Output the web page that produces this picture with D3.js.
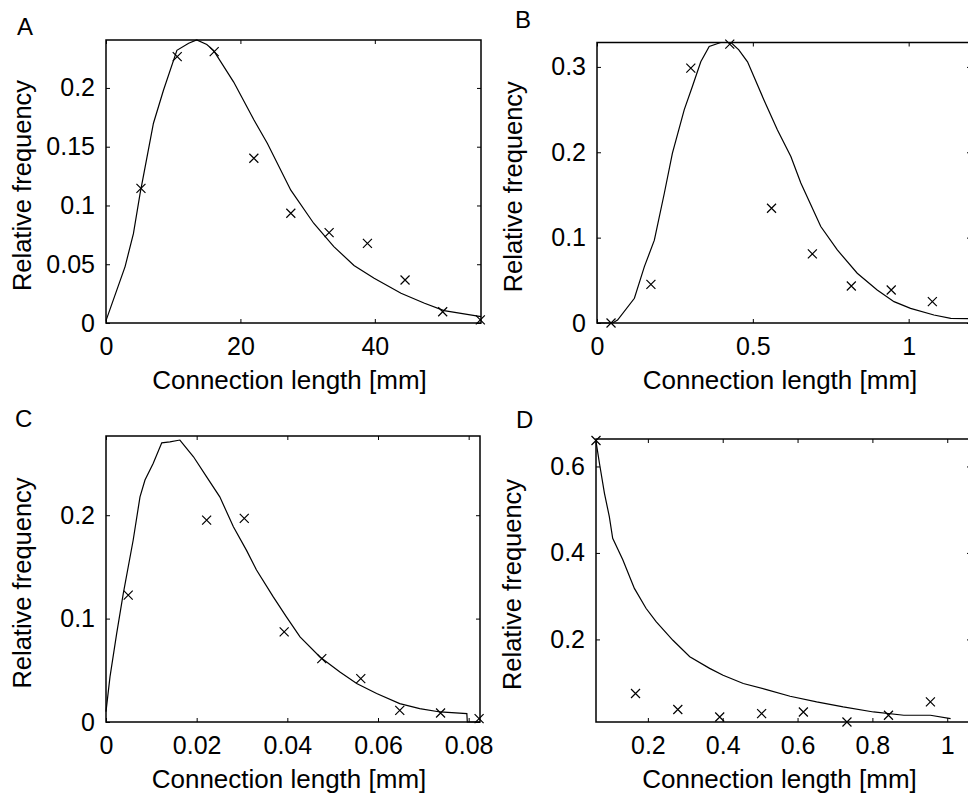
<!DOCTYPE html>
<html>
<head>
<meta charset="utf-8">
<script src="https://cdn.jsdelivr.net/npm/d3@7"></script>
<style>
  body { margin: 0; background: #fff; }
  text { font-family: "Liberation Sans", Arial, sans-serif; fill: #000; }
</style>
</head>
<body>
<div id="fig"></div>
<script>
// panel A
var aBinX = [5.2, 10.6, 16.1, 22.0, 27.5, 33.2, 38.9, 44.5, 50.1, 55.7];
var aFreq = [0.1146, 0.2266, 0.2309, 0.1402, 0.0934, 0.0769, 0.0678, 0.0366, 0.0096, 0.0026];
var aFitX = [0, 2.84, 4.08, 5.07, 7.06, 8.55, 10.55, 12.3, 13.5, 15.0, 16.0, 19.0, 22.0, 24.0, 27.5, 30.9, 33.9, 36.9, 39.9, 43.9, 47.4, 50.3, 55.8];
var aFitY = [0.002, 0.048, 0.076, 0.110, 0.170, 0.198, 0.232, 0.238, 0.2408, 0.237, 0.232, 0.205, 0.173, 0.153, 0.113, 0.0849, 0.065, 0.049, 0.038, 0.0253, 0.0168, 0.0105, 0.0054];
var aXTicks = [0, 20, 40];
var aYTicks = [0, 0.05, 0.1, 0.15, 0.2];

// panel B
var bBinX = [0.045, 0.173, 0.301, 0.426, 0.560, 0.691, 0.816, 0.944, 1.076];
var bFreq = [0, 0.0453, 0.2986, 0.3267, 0.1344, 0.0809, 0.0434, 0.0387, 0.025];
var bFitX = [0, 0.05, 0.066, 0.12, 0.152, 0.184, 0.216, 0.242, 0.28, 0.306, 0.333, 0.36, 0.397, 0.43, 0.455, 0.483, 0.536, 0.579, 0.622, 0.654, 0.718, 0.771, 0.835, 0.899, 0.953, 1.006, 1.081, 1.135, 1.2];
var bFitY = [0, 0, 0.0035, 0.029, 0.066, 0.097, 0.152, 0.199, 0.25, 0.277, 0.306, 0.324, 0.3286, 0.3286, 0.32, 0.306, 0.261, 0.226, 0.195, 0.164, 0.113, 0.0856, 0.0583, 0.0387, 0.025, 0.0172, 0.0094, 0.0055, 0.005];
var bXTicks = [0, 0.5, 1];
var bYTicks = [0, 0.1, 0.2, 0.3];

// panel C
var cBinX = [0.0049, 0.0222, 0.0305, 0.0393, 0.0476, 0.0562, 0.0648, 0.0738, 0.0823];
var cFreq = [0.1227, 0.1953, 0.1969, 0.0871, 0.0613, 0.042, 0.0113, 0.0087, 0.0033];
var cFitX = [0, 0.00088, 0.00235, 0.0038, 0.006, 0.0075, 0.0086, 0.0104, 0.0123, 0.0141, 0.0163, 0.0193, 0.0222, 0.0251, 0.0281, 0.031, 0.0332, 0.0369, 0.0398, 0.0428, 0.0472, 0.0516, 0.0553, 0.0597, 0.0648, 0.0692, 0.0737, 0.0796, 0.0797, 0.0825];
var cFitY = [0.01, 0.0436, 0.0855, 0.124, 0.176, 0.2178, 0.234, 0.250, 0.270, 0.271, 0.2727, 0.2565, 0.237, 0.2178, 0.1888, 0.166, 0.147, 0.121, 0.1016, 0.0823, 0.0629, 0.0484, 0.0372, 0.0275, 0.0178, 0.013, 0.0097, 0.0081, 0, 0];
var cXTicks = [0, 0.02, 0.04, 0.06, 0.08];
var cYTicks = [0, 0.1, 0.2];

// panel D
var dBinX = [0.0614, 0.167, 0.280, 0.392, 0.504, 0.6155, 0.732, 0.843, 0.955];
var dFreq = [0.66, 0.0749, 0.0378, 0.0206, 0.0285, 0.0322, 0.009, 0.0246, 0.0554];
var dFitX = [0.0614, 0.0705, 0.084, 0.097, 0.106, 0.133, 0.164, 0.195, 0.222, 0.267, 0.312, 0.365, 0.401, 0.455, 0.517, 0.58, 0.651, 0.722, 0.803, 0.884, 0.955, 1.009];
var dFitY = [0.658, 0.608, 0.538, 0.484, 0.434, 0.384, 0.318, 0.272, 0.241, 0.198, 0.160, 0.133, 0.117, 0.098, 0.084, 0.0686, 0.0554, 0.0438, 0.0322, 0.0246, 0.0246, 0.017];
var dXTicks = [0.2, 0.4, 0.6, 0.8, 1];
var dYTicks = [0.2, 0.4, 0.6];

var xLabel = "Connection length [mm]";
var yLabel = "Relative frequency";

var svg = d3.select("#fig").append("svg")
  .attr("width", 968)
  .attr("height", 801);

var fmt = d3.format("~g");

function drawPanel(p) {
  var x = d3.scaleLinear().domain(p.xDom).range([p.left, p.right]);
  var y = d3.scaleLinear().domain(p.yDom).range([p.bottom, p.top]);
  var g = svg.append("g");

  // ticks pointing inward on all four sides
  g.append("g")
    .attr("transform", "translate(0," + p.bottom + ")")
    .call(d3.axisBottom(x).tickValues(p.xTicks).tickSize(-4).tickSizeOuter(0).tickPadding(14).tickFormat(fmt))
    .call(function(a) { a.select(".domain").remove(); a.selectAll("text").attr("font-size", 25); });
  g.append("g")
    .attr("transform", "translate(0," + p.top + ")")
    .call(d3.axisTop(x).tickValues(p.xTicks).tickSize(-4).tickSizeOuter(0).tickFormat(""))
    .call(function(a) { a.select(".domain").remove(); });
  g.append("g")
    .attr("transform", "translate(" + p.left + ",0)")
    .call(d3.axisLeft(y).tickValues(p.yTicks).tickSize(-4).tickSizeOuter(0).tickPadding(11).tickFormat(fmt))
    .call(function(a) { a.select(".domain").remove(); a.selectAll("text").attr("font-size", 25); });
  g.append("g")
    .attr("transform", "translate(" + p.right + ",0)")
    .call(d3.axisRight(y).tickValues(p.yTicks).tickSize(-4).tickSizeOuter(0).tickFormat(""))
    .call(function(a) { a.select(".domain").remove(); });
  g.selectAll(".tick line").attr("stroke", "#000");

  g.append("rect")
    .attr("x", p.left).attr("y", p.top)
    .attr("width", p.right - p.left).attr("height", p.bottom - p.top)
    .attr("fill", "none").attr("stroke", "#000").attr("stroke-width", 1.5);

  // fitted curve
  var line = d3.line()
    .x(function(d) { return x(d[0]); })
    .y(function(d) { return y(d[1]); });
  g.append("path")
    .datum(d3.zip(p.fitX, p.fitY))
    .attr("d", line)
    .attr("fill", "none")
    .attr("stroke", "#000")
    .attr("stroke-width", 1.2);

  // measured bins as x markers
  var s = 4.5;
  g.selectAll(".mk")
    .data(d3.zip(p.binX, p.freq))
    .enter().append("path")
    .attr("class", "mk")
    .attr("d", function(d) {
      var cx = x(d[0]), cy = y(d[1]);
      return "M" + (cx - s) + "," + (cy - s) + "L" + (cx + s) + "," + (cy + s) +
             "M" + (cx - s) + "," + (cy + s) + "L" + (cx + s) + "," + (cy - s);
    })
    .attr("stroke", "#000")
    .attr("stroke-width", 1.2)
    .attr("fill", "none");

  var mid = (p.left + p.right) / 2 - 4;
  g.append("text")
    .attr("x", mid).attr("y", p.bottom + 66)
    .attr("text-anchor", "middle")
    .attr("font-size", 26)
    .text(xLabel);
  g.append("text")
    .attr("transform", "translate(" + (p.left - 75) + "," + ((p.top + p.bottom) / 2 + 4) + ") rotate(-90)")
    .attr("text-anchor", "middle")
    .attr("font-size", 25.5)
    .text(yLabel);
  g.append("text")
    .attr("x", p.labX).attr("y", p.labY)
    .attr("font-size", 24)
    .text(p.name);
}

drawPanel({ name: "A", labX: 17, labY: 35, left: 106, right: 481, top: 40, bottom: 323,
  xDom: [0, 55.8], yDom: [0, 0.2408], xTicks: aXTicks, yTicks: aYTicks,
  binX: aBinX, freq: aFreq, fitX: aFitX, fitY: aFitY });
drawPanel({ name: "B", labX: 515, labY: 28, left: 597, right: 971, top: 42.5, bottom: 323,
  xDom: [0, 1.2], yDom: [0, 0.3286], xTicks: bXTicks, yTicks: bYTicks,
  binX: bBinX, freq: bFreq, fitX: bFitX, fitY: bFitY });
drawPanel({ name: "C", labX: 15, labY: 427, left: 106, right: 480, top: 436, bottom: 722,
  xDom: [0, 0.0825], yDom: [0, 0.2766], xTicks: cXTicks, yTicks: cYTicks,
  binX: cBinX, freq: cFreq, fitX: cFitX, fitY: cFitY });
drawPanel({ name: "D", labX: 516, labY: 428, left: 596, right: 971, top: 439, bottom: 722,
  xDom: [0.0614, 1.0635], yDom: [0.009, 0.6635], xTicks: dXTicks, yTicks: dYTicks,
  binX: dBinX, freq: dFreq, fitX: dFitX, fitY: dFitY });
</script>
</body>
</html>
